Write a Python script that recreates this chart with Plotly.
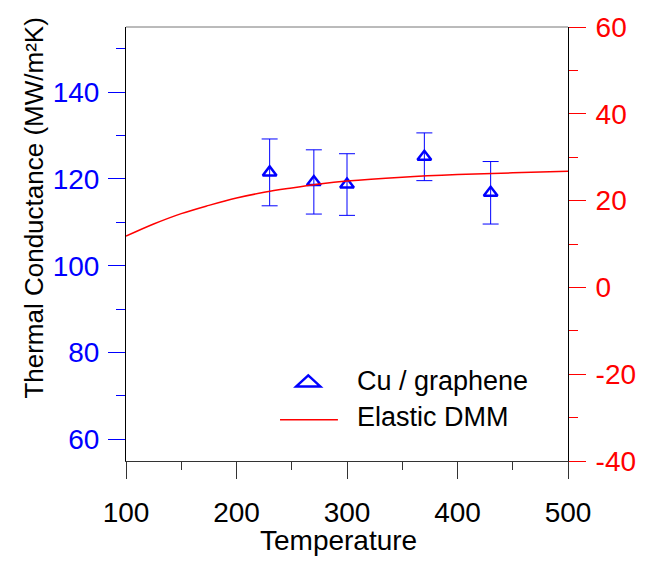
import plotly.graph_objects as go

# Experimental data (Cu / graphene), left axis
T_exp = [230, 270, 300, 370, 430]
G_exp = [121.5, 119.3, 118.7, 125.1, 116.8]
G_err = [7.7, 7.4, 7.1, 5.5, 7.2]

# Elastic DMM curve, right axis
T_dmm = [100, 125, 150, 175, 200, 225, 250, 275, 300, 350, 400, 450, 500]
G_dmm = [11.8, 14.6, 17.0, 18.9, 20.6, 21.9, 22.9, 23.8, 24.5, 25.4, 26.0, 26.4, 26.75]

# Tick labels
x_ticks = [100, 200, 300, 400, 500]
y_left_ticks = [60, 80, 100, 120, 140]
y_right_ticks = [-40, -20, 0, 20, 40, 60]
y_right_text = ["-40", "-20", "0", "20", "40", "60"]

FONT = "Liberation Sans, Arial, sans-serif"

fig = go.Figure()
fig.add_trace(go.Scatter(
    x=T_exp, y=G_exp, mode="markers", name="Cu / graphene",
    marker=dict(symbol="triangle-up-open", size=12, color="#0000FF",
                line=dict(width=2.5, color="#0000FF")),
    error_y=dict(type="data", array=G_err, color="#0000FF", thickness=1, width=8),
    yaxis="y", showlegend=False))
fig.add_trace(go.Scatter(
    x=T_dmm, y=G_dmm, mode="lines", name="Elastic DMM",
    line=dict(color="#FF0000", width=1.5, shape="spline"),
    yaxis="y2", showlegend=False))

PL, PR, PT, PB = 125.7, 568.5, 13.0, 461.0
W, H = PR - PL, PB - PT

def px(x):
    return (x - PL) / W

def py(y):
    return (PB - y) / H

fig.update_layout(
    width=662, height=566, autosize=False,
    margin=dict(l=PL, r=662 - PR, t=PT, b=566 - PB, pad=0),
    plot_bgcolor="white", paper_bgcolor="white",
    font=dict(family=FONT, color="black"),
    xaxis=dict(range=[100, 500], tickvals=x_ticks, ticks="outside", ticklen=17,
               tickwidth=1, tickcolor="#333", showline=True, linecolor="#333", linewidth=1,
               showgrid=False, zeroline=False, tickfont=dict(size=28, color="black"),
               ticklabelstandoff=9,
               minor=dict(tick0=100, dtick=50, ticks="outside", ticklen=8, tickcolor="#333",
                          tickwidth=1, showgrid=False)),
    yaxis=dict(range=[55, 155], tickvals=y_left_ticks, ticks="outside", ticklen=17,
               tickwidth=1, tickcolor="#0000FF", showline=True, linecolor="black", linewidth=1,
               showgrid=False, zeroline=False, tickfont=dict(size=28, color="#0000FF"),
               ticklabelstandoff=3,
               minor=dict(tick0=60, dtick=10, ticks="outside", ticklen=9, tickcolor="#0000FF",
                          tickwidth=1, showgrid=False)),
    yaxis2=dict(range=[-40, 60], tickvals=y_right_ticks, ticktext=y_right_text,
                overlaying="y", side="right",
                ticks="outside", ticklen=17, tickwidth=1, tickcolor="#FF0000",
                showline=True, linecolor="black", linewidth=1, ticklabeloverflow="allow",
                showgrid=False, zeroline=False, tickfont=dict(size=28, color="#FF0000"),
                ticklabelstandoff=4,
                minor=dict(tick0=-40, dtick=10, ticks="outside", ticklen=9, tickcolor="#FF0000",
                           tickwidth=1, showgrid=False)),
)

# top border
fig.add_shape(type="line", xref="paper", yref="paper", x0=0, x1=1, y0=1, y1=1,
              line=dict(color="#777", width=1))

# legend: triangle symbol
fig.add_shape(type="path", xref="paper", yref="paper", xsizemode="pixel", ysizemode="pixel",
              xanchor=px(308.3), yanchor=py(378.3),
              path="M -12 -5.5 L 0 5.5 L 12 -5.5 Z",
              line=dict(color="#0000FF", width=2.5))
# legend: line
fig.add_shape(type="line", xref="paper", yref="paper", x0=px(280), x1=px(338),
              y0=py(418.3), y1=py(418.3), line=dict(color="#FF0000", width=1.5))

fig.add_annotation(x=px(355), y=py(378), xref="paper", yref="paper", text="Cu / graphene",
                   showarrow=False, xanchor="left", yanchor="middle",
                   font=dict(size=27, family=FONT, color="black"))
fig.add_annotation(x=px(355), y=py(416), xref="paper", yref="paper", text="Elastic DMM",
                   showarrow=False, xanchor="left", yanchor="middle",
                   font=dict(size=27, family=FONT, color="black"))

# axis titles
fig.add_annotation(x=px(34), y=py(200), xref="paper", yref="paper",
                   text="Thermal Conductance (MW/m²K)", textangle=-90,
                   showarrow=False, xanchor="center", yanchor="middle",
                   font=dict(size=26, family=FONT, color="black"))
fig.add_annotation(x=px(339), y=py(543), xref="paper", yref="paper",
                   text="Temperature", showarrow=False, xanchor="center", yanchor="middle",
                   font=dict(size=28, family=FONT, color="black"))

fig.write_html("out.html", post_script="document.body.style.margin='0px';",
               config={"displayModeBar": False})
